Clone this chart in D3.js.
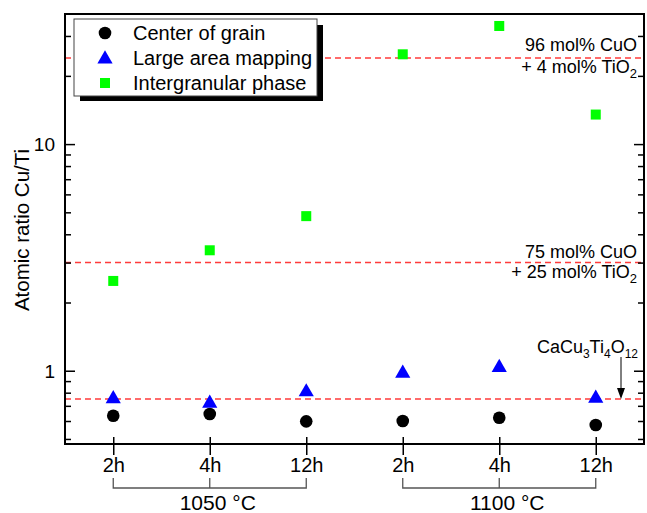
<!DOCTYPE html>
<html><head><meta charset="utf-8">
<script src="https://cdn.jsdelivr.net/npm/d3@7"></script>
<style>body{margin:0;background:#fff;} text{font-family:"Liberation Sans",Arial,sans-serif;}</style>
</head><body>
<svg id="c" width="647" height="513"></svg>
<script>
const categories = ["2h","4h","12h","2h","4h","12h"];
const groups = [{label:"1050 °C", from:0, to:2}, {label:"1100 °C", from:3, to:5}];
const centerOfGrain = [0.633, 0.644, 0.598, 0.600, 0.620, 0.576];
const largeArea = [0.760, 0.726, 0.814, 0.984, 1.043, 0.763];
const intergranular = [2.49, 3.40, 4.81, 24.9, 33.2, 13.5];
const refLines = [24, 3, 0.75];
const majorTicks = [1, 10];
const minorTicks = [0.5,0.6,0.7,0.8,0.9,2,3,4,5,6,7,8,9,20,30];

const svg = d3.select("#c");
const L=65, R=644, T=14, B=444;
const x = d3.scalePoint().domain(d3.range(categories.length)).range([L,R]).padding(0.5);
const y = d3.scaleLog().domain([0.475, 37.5]).range([B,T]);

// reference dashed lines
svg.append("g").selectAll("line").data(refLines).join("line")
  .attr("x1",L).attr("x2",R).attr("y1",d=>y(d)).attr("y2",d=>y(d))
  .attr("stroke","#ff3b3b").attr("stroke-width",1.5).attr("stroke-dasharray","6,4");

// left axis
const gl = svg.append("g").attr("transform",`translate(${L},0)`);
gl.call(d3.axisLeft(y).tickValues(majorTicks).tickSize(-10).tickPadding(10).tickFormat(d3.format("d")));
gl.append("g").call(d3.axisLeft(y).tickValues(minorTicks).tickSize(-6).tickFormat(""));
// right axis
const gr = svg.append("g").attr("transform",`translate(${R},0)`);
gr.call(d3.axisRight(y).tickValues(majorTicks).tickSize(-10).tickFormat(""));
gr.append("g").call(d3.axisRight(y).tickValues(minorTicks).tickSize(-6).tickFormat(""));
// bottom axis
const gb = svg.append("g").attr("transform",`translate(0,${B})`);
gb.call(d3.axisBottom(x).tickSize(11).tickPadding(3).tickFormat(i=>categories[i]));
gb.selectAll(".tick line").attr("y1",-7);
svg.selectAll(".domain").remove();
svg.selectAll(".tick line").attr("stroke","#000").attr("stroke-width",1.5);
svg.selectAll(".tick text").attr("font-size",20).attr("fill","#000").attr("font-family","Liberation Sans, Arial, sans-serif");
gl.selectAll(".tick text").attr("dy","0.35em").attr("font-size",19);

// frame
svg.append("rect").attr("x",L).attr("y",T).attr("width",R-L).attr("height",B-T)
  .attr("fill","none").attr("stroke","#000").attr("stroke-width",2);

// group brackets
const gg = svg.append("g");
groups.forEach(g=>{
  const x0=x(g.from), x1=x(g.to), xm=(x0+x1)/2;
  gg.append("path").attr("d",`M${x0},478V488H${x1}V478M${xm},478V488`)
    .attr("fill","none").attr("stroke","#555").attr("stroke-width",1.3);
  gg.append("text").attr("x",xm+8).attr("y",510).attr("text-anchor","middle")
    .attr("font-size",21).text(g.label);
});

// axis title
svg.append("text").attr("transform","translate(29,230) rotate(-90)")
  .attr("text-anchor","middle").attr("font-size",20.5).text("Atomic ratio Cu/Ti");

// data
const idx = d3.range(categories.length);
svg.append("g").selectAll("circle").data(idx).join("circle")
  .attr("cx",i=>x(i)).attr("cy",i=>y(centerOfGrain[i])).attr("r",6.3).attr("fill","#000");
const tri = d3.symbol().type(d3.symbolTriangle).size(100);
svg.append("g").selectAll("path").data(idx).join("path")
  .attr("d",tri).attr("transform",i=>`translate(${x(i)},${y(largeArea[i])+1})`).attr("fill","#0000ff");
svg.append("g").selectAll("rect").data(idx).join("rect")
  .attr("x",i=>x(i)-5).attr("y",i=>y(intergranular[i])-5).attr("width",10).attr("height",10).attr("fill","#00ff00");

// annotations
function twoLine(v, l1, l2num, yTop, yBot){
  svg.append("text").attr("x",637).attr("y",yTop).attr("text-anchor","end").attr("font-size",18).text(l1);
  const t = svg.append("text").attr("x",637).attr("y",yBot).attr("text-anchor","end").attr("font-size",18);
  t.append("tspan").text(`+ ${l2num} mol% TiO`);
  t.append("tspan").attr("font-size",13).attr("dy",5).text("2");
}
twoLine(24,"96 mol% CuO","4", y(24)-7, y(24)+15);
twoLine(3,"75 mol% CuO","25", y(3)-5, y(3)+15);

const cc = svg.append("text").attr("x",638).attr("y",353).attr("text-anchor","end").attr("font-size",18);
[["CaCu",0],["3",1],["Ti",0],["4",1],["O",0],["12",1]].forEach(([s,sub],k)=>{
  const ts = cc.append("tspan").text(s);
  if(sub){ ts.attr("font-size",12).attr("dy",5); }
  else if(k>0){ ts.attr("dy",-5); }
});
svg.append("line").attr("x1",621).attr("x2",621).attr("y1",357).attr("y2",390)
  .attr("stroke","#000").attr("stroke-width",1);
svg.append("path").attr("d",`M617,388L625,388L621,${y(0.75)}Z`).attr("fill","#000");

// legend
const lg = svg.append("g");
lg.append("rect").attr("x",80).attr("y",25).attr("width",243).attr("height",76).attr("fill","#000");
lg.append("rect").attr("x",74).attr("y",19).attr("width",243).attr("height",77).attr("fill","#fff")
  .attr("stroke","#444").attr("stroke-width",1);
const items = [["Center of grain","c"],["Large area mapping","t"],["Intergranular phase","s"]];
items.forEach(([lab,t],k)=>{
  const yy = 33 + k*25;
  if(t==="c") lg.append("circle").attr("cx",105).attr("cy",yy).attr("r",6.3).attr("fill","#000");
  if(t==="t") lg.append("path").attr("d",tri).attr("transform",`translate(105,${yy+1})`).attr("fill","#0000ff");
  if(t==="s") lg.append("rect").attr("x",100).attr("y",yy-5).attr("width",10).attr("height",10).attr("fill","#00ff00");
  lg.append("text").attr("x",133).attr("y",yy).attr("dy","0.35em").attr("font-size",20).text(lab);
});
</script>
</body></html>
